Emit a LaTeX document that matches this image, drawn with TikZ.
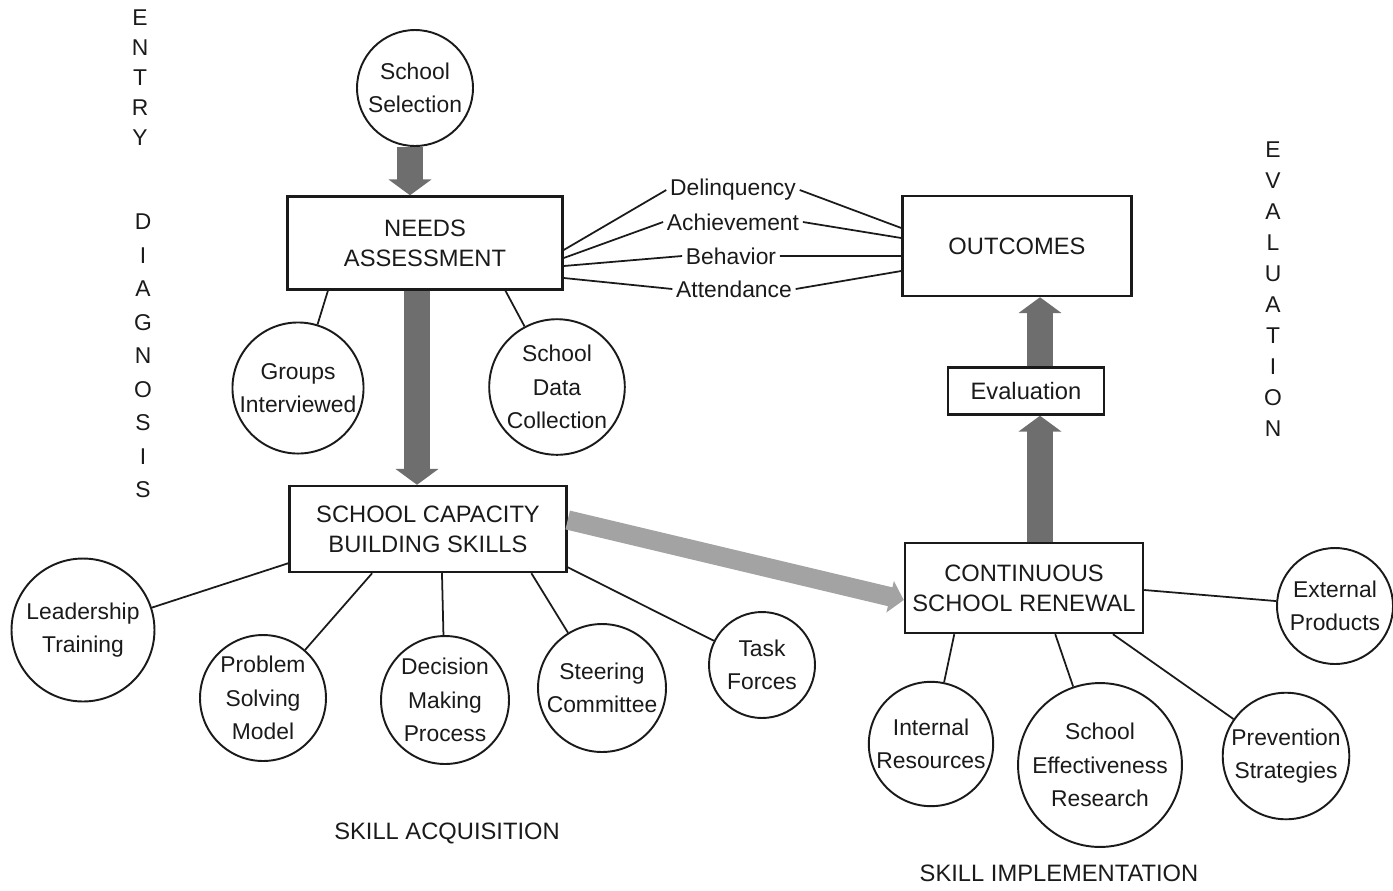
\documentclass[tikz,border=0pt]{standalone}
\usepackage{fontspec}
\setmainfont{Liberation Sans}
\usetikzlibrary{arrows.meta,calc}
\definecolor{cInk}{HTML}{1A1A1A}
\definecolor{cGrain}{HTML}{6E6E6E}
\definecolor{cGrainLt}{HTML}{A3A3A3}
\tikzset{
  topic/.style={circle,draw=cInk,line width=1.1pt,align=center,inner sep=1pt,
                font=\fontsize{13}{19}\selectfont,text=cInk},
  stage/.style={rectangle,draw=cInk,line width=1.4pt,align=center,
                font=\fontsize{13.5}{17}\selectfont,text=cInk},
  item/.style={font=\fontsize{13}{15}\selectfont,text=cInk,inner sep=2pt},
  spoke/.style={line width=1pt,draw=cInk},
  bigflow/.style={-{Triangle[length=9pt,width=24pt]},line width=15pt,draw=cGrain},
  sideflow/.style={-{Triangle[length=8pt,width=18pt]},line width=11pt,draw=cGrainLt},
  margin/.style={font=\fontsize{13}{15}\selectfont,text=cInk,inner sep=0pt},
  phase/.style={font=\fontsize{13.5}{16}\selectfont,text=cInk}
}

\begin{document}
\begin{tikzpicture}[x=0.02cm,y=-0.02cm]
  \useasboundingbox (0,0) rectangle (1393,890);

  % side captions
  \foreach \ch [count=\i] in {E,N,T,R,Y}
    \node[margin] (entry\i) at (140,{18+30*(\i-1)}) {\ch};
  \foreach \ch [count=\i] in {D,I,A,G,N,O,S,I,S}
    \node[margin] (diag\i) at (143,{222+33.5*(\i-1)}) {\ch};
  \foreach \ch [count=\i] in {E,V,A,L,U,A,T,I,O,N}
    \node[margin] (evalcap\i) at (1273,{150+31*(\i-1)}) {\ch};

  % entry and needs
  \node[topic,minimum size=2.32cm] (select) at (415,88) {School\\Selection};
  \node[stage,minimum width=5.5cm,minimum height=1.86cm] (needs) at (425,243)
    {NEEDS\\ASSESSMENT};
  \node[topic,minimum size=2.4cm] (groups) at (298,388) {Groups\\Interviewed};
  \node[topic,minimum size=2.56cm] (datacoll) at (557,387) {School\\Data\\Collection};

  \node[item] (delinq) at (733,190) {Delinquency};
  \node[item] (achieve) at (733,222) {Achievement};
  \node[item] (behave) at (731,256) {Behavior};
  \node[item] (attend) at (734,289) {Attendance};

  \node[stage,minimum width=4.58cm,minimum height=2cm] (outcome) at (1017,246) {OUTCOMES};
  \node[stage,minimum width=3.12cm,minimum height=0.94cm] (evalbox) at (1026,391) {Evaluation};

  % capacity building
  \node[stage,minimum width=5.54cm,minimum height=1.72cm] (capacity) at (428,529)
    {SCHOOL CAPACITY\\BUILDING SKILLS};
  \node[topic,minimum size=2.86cm] (leader) at (83,630) {Leadership\\Training};
  \node[topic,minimum size=2.52cm] (problem) at (263,698) {Problem\\Solving\\Model};
  \node[topic,minimum size=2.56cm] (decide) at (445,700) {Decision\\Making\\Process};
  \node[topic,minimum size=2.56cm] (steer) at (602,688) {Steering\\Committee};
  \node[topic,minimum size=2.12cm] (task) at (762,665) {Task\\Forces};

  % renewal
  \node[stage,minimum width=4.76cm,minimum height=1.8cm] (renewal) at (1024,588)
    {CONTINUOUS\\SCHOOL RENEWAL};
  \node[topic,minimum size=2.32cm] (extprod) at (1335,606) {External\\Products};
  \node[topic,minimum size=2.48cm] (intres) at (931,744) {Internal\\Resources};
  \node[topic,minimum size=3cm] (effect) at (1100,765) {School\\Effectiveness\\Research};
  \node[topic,minimum size=2.52cm] (prevent) at (1286,756) {Prevention\\Strategies};

  \node[phase] (acquire) at (447,833) {SKILL ACQUISITION};
  \node[phase] (implement) at (1059,873) {SKILL IMPLEMENTATION};

  % spokes
  \draw[spoke] ([yshift=-0.14cm]needs.east) -- (delinq.west);
  \draw[spoke] ([yshift=-0.3cm]needs.east) -- (achieve.west);
  \draw[spoke] ([yshift=-0.46cm]needs.east) -- (behave.west);
  \draw[spoke] ([yshift=-0.7cm]needs.east) -- (attend.west);
  \draw[spoke] (delinq.east) -- ([yshift=0.36cm]outcome.west);
  \draw[spoke] (achieve.east) -- ([yshift=0.16cm]outcome.west);
  \draw[spoke] (behave.east) -- ([yshift=-0.2cm]outcome.west);
  \draw[spoke] (attend.east) -- ([yshift=-0.5cm]outcome.west);

  \draw[spoke] ($(needs.south west)!0.15!(needs.south east)$) -- (groups);
  \draw[spoke] ($(needs.south west)!0.79!(needs.south east)$) -- (datacoll);

  \draw[spoke] ([yshift=0.2cm]capacity.south west) -- (leader);
  \draw[spoke] ($(capacity.south west)!0.3!(capacity.south east)$) -- (problem);
  \draw[spoke] ($(capacity.south west)!0.55!(capacity.south east)$) -- (decide);
  \draw[spoke] ($(capacity.south west)!0.87!(capacity.south east)$) -- (steer);
  \draw[spoke] ([yshift=0.12cm]capacity.south east) -- (task);

  \draw[spoke] ([yshift=-0.04cm]renewal.east) -- (extprod);
  \draw[spoke] ($(renewal.south west)!0.21!(renewal.south east)$) -- (intres);
  \draw[spoke] ($(renewal.south west)!0.63!(renewal.south east)$) -- (effect);
  \draw[spoke] ($(renewal.south west)!0.87!(renewal.south east)$) -- (prevent);

  % flow arrows
  \coordinate (dropA) at ($(select.south)+(-5,0)$);
  \coordinate (dropB) at ($(needs.south)+(-8,0)$);
  \coordinate (riseA) at ($(renewal.north)+(16,0)$);
  \coordinate (riseB) at ($(evalbox.north)+(14,0)$);
  \draw[bigflow] (dropA) -- (dropA |- needs.north);
  \draw[bigflow] (dropB) -- (dropB |- capacity.north);
  \draw[sideflow] ([yshift=0.18cm]capacity.east) -- ([yshift=-0.24cm]renewal.west);
  \draw[bigflow] (riseA) -- (riseA |- evalbox.south);
  \draw[bigflow] (riseB) -- (riseB |- outcome.south);
\end{tikzpicture}
\end{document}
